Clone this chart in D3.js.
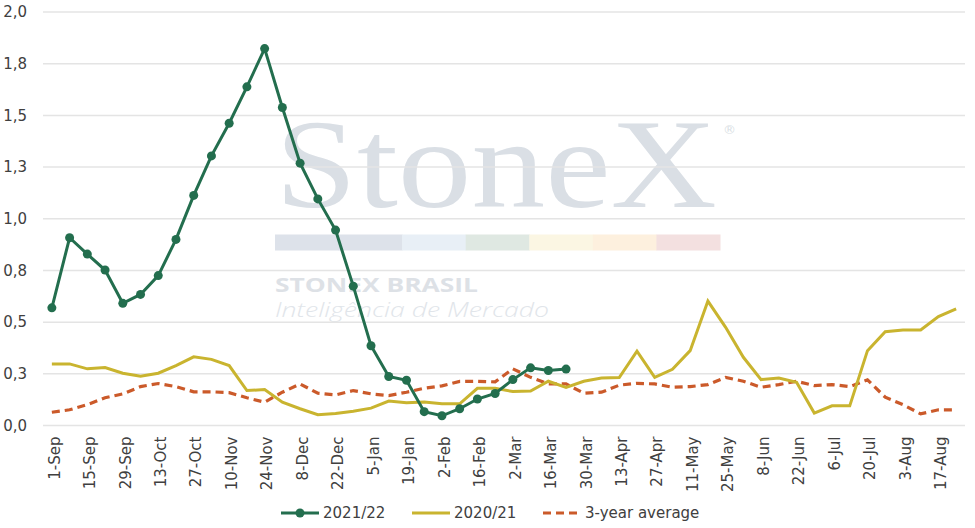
<!DOCTYPE html>
<html>
<head>
<meta charset="utf-8">
<script src="https://cdn.jsdelivr.net/npm/d3@7"></script>
<style>
  html, body { margin: 0; padding: 0; background: #fff; }
  svg { display: block; }
  text { font-family: "DejaVu Sans", sans-serif; }
</style>
</head>
<body>
<svg id="chart" width="975" height="528"></svg>
<script>
const weeks = ["1-Sep","8-Sep","15-Sep","22-Sep","29-Sep","6-Oct","13-Oct","20-Oct","27-Oct","3-Nov",
  "10-Nov","17-Nov","24-Nov","1-Dec","8-Dec","15-Dec","22-Dec","29-Dec","5-Jan","12-Jan",
  "19-Jan","26-Jan","2-Feb","9-Feb","16-Feb","23-Feb","2-Mar","9-Mar","16-Mar","23-Mar",
  "30-Mar","6-Apr","13-Apr","20-Apr","27-Apr","4-May","11-May","18-May","25-May","1-Jun",
  "8-Jun","15-Jun","22-Jun","29-Jun","6-Jul","13-Jul","20-Jul","27-Jul","3-Aug","10-Aug",
  "17-Aug","24-Aug"];

const s2122 = [0.569, 0.908, 0.829, 0.752, 0.591, 0.634, 0.725, 0.900, 1.113, 1.304,
  1.462, 1.638, 1.823, 1.538, 1.269, 1.096, 0.945, 0.674, 0.386, 0.237,
  0.219, 0.067, 0.047, 0.081, 0.128, 0.155, 0.222, 0.279, 0.266, 0.273];

const s2021 = [0.298, 0.298, 0.274, 0.280, 0.253, 0.238, 0.253, 0.290, 0.332, 0.320,
  0.290, 0.169, 0.174, 0.113, 0.081, 0.052, 0.058, 0.069, 0.084, 0.118,
  0.110, 0.114, 0.105, 0.105, 0.180, 0.180, 0.164, 0.167, 0.214, 0.184,
  0.214, 0.230, 0.232, 0.359, 0.233, 0.272, 0.362, 0.602, 0.475, 0.330,
  0.222, 0.230, 0.209, 0.060, 0.095, 0.095, 0.362, 0.454, 0.462, 0.462,
  0.527, 0.564];

const avg3 = [0.064, 0.076, 0.101, 0.134, 0.153, 0.188, 0.203, 0.188, 0.163, 0.163,
  0.159, 0.134, 0.113, 0.161, 0.201, 0.156, 0.148, 0.169, 0.153, 0.145,
  0.161, 0.180, 0.192, 0.213, 0.214, 0.211, 0.274, 0.233, 0.201, 0.201,
  0.156, 0.161, 0.195, 0.204, 0.201, 0.185, 0.188, 0.198, 0.233, 0.214,
  0.185, 0.198, 0.214, 0.193, 0.198, 0.188, 0.221, 0.137, 0.101, 0.056,
  0.076, 0.076];

const yTicks = [0, 0.25, 0.5, 0.75, 1.0, 1.25, 1.5, 1.75, 2.0];
const xTickLabels = weeks.filter((d, i) => i % 2 === 0);
const seriesNames = ["2021/22", "2020/21", "3-year average"];

const svg = d3.select("#chart");
const mLeft = 43, mRight = 965, mTop = 12, mBottom = 425.5;

const x = d3.scalePoint().domain(weeks).range([mLeft, mRight]).padding(0.5);
const y = d3.scaleLinear().domain([0, 2]).range([mBottom, mTop]);

const fmt = v => d3.format(".1f")(v).replace(".", ",");

// Watermark
const wm = svg.append("g").attr("class", "watermark");
wm.append("text").text("StoneX")
  .attr("x", 275).attr("y", 207)
  .attr("textLength", 442).attr("lengthAdjust", "spacingAndGlyphs")
  .style("font-family", "'Liberation Serif', 'DejaVu Serif', serif")
  .style("font-size", "128px").attr("fill", "#dadfe5");
wm.append("text").text("®").attr("x", 723).attr("y", 134)
  .style("font-size", "13px").attr("fill", "#dadfe5");
const barColors = ["#dde2ea", "#dde2ea", "#e8eff6", "#dfe8e2", "#fbf6e3", "#fdf0de", "#f3e0e0"];
const barX = d3.scaleBand().domain(d3.range(barColors.length)).range([275, 720]);
wm.selectAll("rect.wb").data(barColors).join("rect").attr("class", "wb")
  .attr("x", (d, i) => barX(i)).attr("y", 234.5)
  .attr("width", barX.bandwidth() + 0.5).attr("height", 16).attr("fill", d => d);
wm.append("text").text("STONEX BRASIL").attr("x", 275).attr("y", 291.5)
  .attr("textLength", 203).attr("lengthAdjust", "spacingAndGlyphs")
  .style("font-family", "'Open Sans', sans-serif").style("font-weight", "700")
  .style("font-size", "20px").attr("fill", "#dde1e6");
wm.append("text").text("Inteligência de Mercado").attr("x", 275).attr("y", 317)
  .attr("textLength", 274).attr("lengthAdjust", "spacingAndGlyphs")
  .style("font-family", "'Open Sans', sans-serif").style("font-style", "italic").style("font-weight", "300")
  .style("font-size", "20px").attr("fill", "#e1e5ea");

// Gridlines
svg.append("g").selectAll("line").data(yTicks).join("line")
  .attr("x1", mLeft).attr("x2", mRight)
  .attr("y1", d => y(d)).attr("y2", d => y(d))
  .attr("stroke", "#e4e4e4").attr("stroke-width", 1.5);

// Y axis labels
const yAxis = d3.axisLeft(y).tickValues(yTicks).tickFormat(fmt).tickSize(0).tickPadding(16);
const yg = svg.append("g").attr("transform", `translate(${mLeft},0)`).call(yAxis);
yg.select(".domain").remove();
yg.selectAll("text").style("font-size", "15px").attr("fill", "#404040")
  .style("font-family", "'DejaVu Sans', sans-serif");

// X axis labels
const xAxis = d3.axisBottom(x).tickValues(xTickLabels).tickSize(0).tickPadding(0);
const xg = svg.append("g").attr("transform", `translate(0,${mBottom})`).call(xAxis);
xg.select(".domain").remove();
xg.selectAll("text")
  .attr("transform", "rotate(-90)")
  .attr("x", -11).attr("y", 2).attr("dy", "0.35em")
  .style("text-anchor", "end").style("font-size", "15px").attr("fill", "#404040")
  .style("font-family", "'DejaVu Sans', sans-serif");

const line = d3.line().x((d, i) => x(weeks[i])).y(d => y(d));

const cGreen = "#236e4e", cYellow = "#c9b42f", cOrange = "#cb5a2a";

svg.append("path").datum(avg3).attr("d", line).attr("fill", "none")
  .attr("stroke", cOrange).attr("stroke-width", 3.2).attr("stroke-dasharray", "8,5");
svg.append("path").datum(s2021).attr("d", line).attr("fill", "none")
  .attr("stroke", cYellow).attr("stroke-width", 3);
svg.append("path").datum(s2122).attr("d", line).attr("fill", "none")
  .attr("stroke", cGreen).attr("stroke-width", 3);
svg.append("g").selectAll("circle").data(s2122).join("circle")
  .attr("cx", (d, i) => x(weeks[i])).attr("cy", d => y(d)).attr("r", 4.5).attr("fill", cGreen);

// Legend
const leg = svg.append("g").attr("transform", "translate(0,513)");
const legItems = [
  {name: seriesNames[0], x: 281, color: cGreen, dash: null, dot: true},
  {name: seriesNames[1], x: 412, color: cYellow, dash: null, dot: false},
  {name: seriesNames[2], x: 543, color: cOrange, dash: "8,5", dot: false}
];
legItems.forEach(it => {
  const g = leg.append("g").attr("transform", `translate(${it.x},0)`);
  g.append("line").attr("x1", 0).attr("x2", 38).attr("y1", 0).attr("y2", 0)
    .attr("stroke", it.color).attr("stroke-width", 3)
    .attr("stroke-dasharray", it.dash);
  if (it.dot) g.append("circle").attr("cx", 19).attr("cy", 0).attr("r", 4.5).attr("fill", it.color);
  g.append("text").text(it.name).attr("x", 42).attr("y", 0).attr("dy", "0.35em")
    .style("font-size", "15px").attr("fill", "#404040");
});
</script>
</body>
</html>
